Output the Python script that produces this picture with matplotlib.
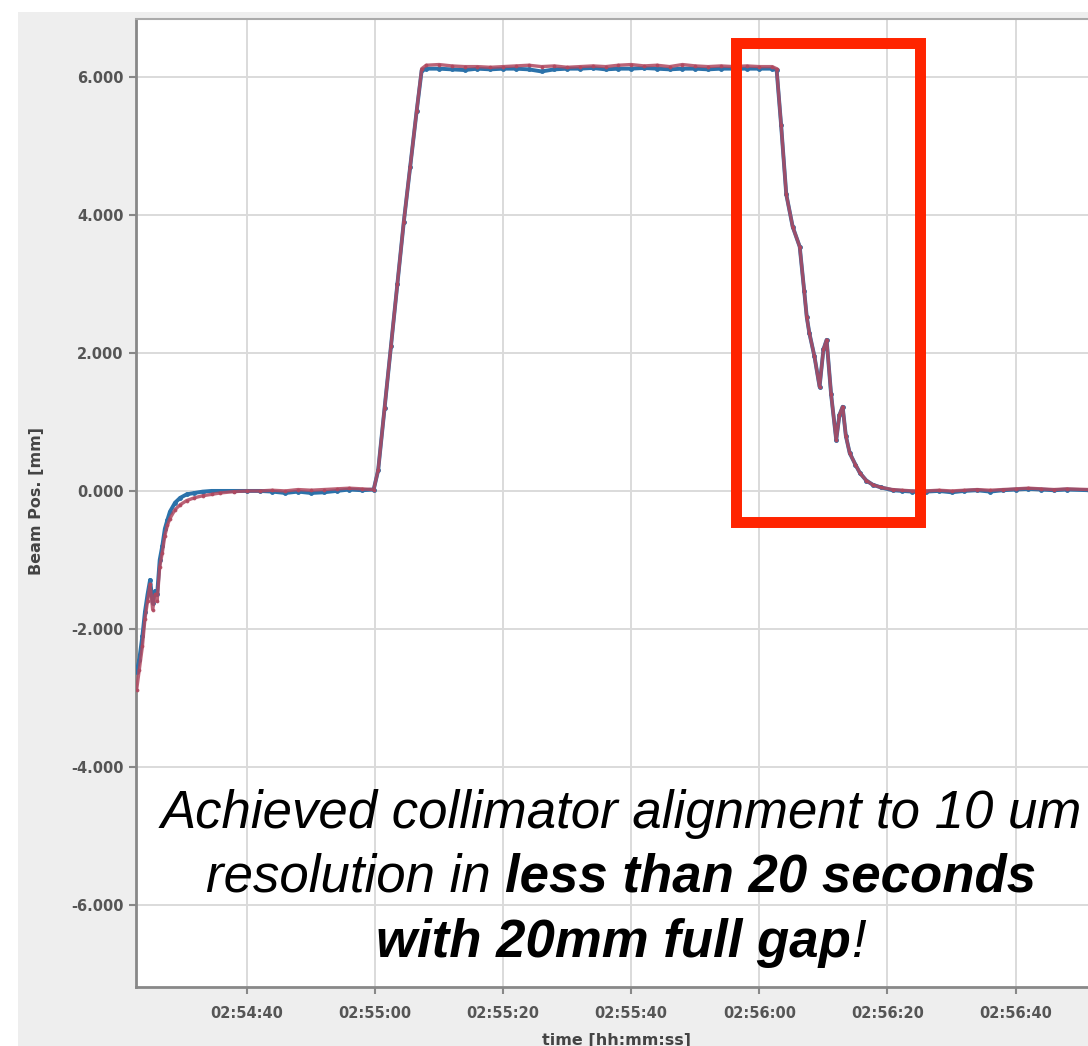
import matplotlib.pyplot as plt
from matplotlib.patches import Rectangle

# seconds since 02:54:00
t_sec = [22.8, 23.2, 23.7, 24.1, 24.5, 24.9, 25.3, 25.7, 26.0, 26.4, 26.8, 27.2,
         27.6, 28.0, 28.8, 29.6, 30.6, 31.8, 33.1, 34.5, 35.8, 38, 40, 42, 44, 46,
         48, 50, 52, 54, 56, 58, 59.8, 60.5, 61.5, 62.5, 63.5, 64.5, 65.5, 66.5,
         67.3, 68, 70, 72, 74, 76, 78, 80, 82, 84, 86, 88, 90, 92, 94, 96, 98,
         100, 102, 104, 106, 108, 110, 112, 114, 116, 118, 120, 122, 122.7, 123.4,
         124.2, 125.2, 126.3, 127.0, 127.4, 127.8, 128.6, 129.4, 130.0, 130.5,
         131.2, 132.0, 132.5, 133.0, 133.5, 134.1, 135.0, 135.7, 136.7, 137.7,
         139.0, 140.8, 142.3, 143.9, 146, 148, 150, 152, 154, 156, 158, 160, 162,
         164, 166, 168, 171.5]

pos_blue = [-2.62, -2.45, -2.1, -1.75, -1.5, -1.29, -1.62, -1.45, -1.5, -1.0, -0.8,
            -0.55, -0.42, -0.3, -0.17, -0.1, -0.05, -0.03, -0.01, 0.0, 0.0, 0.0,
            0.0, 0.0, -0.01, -0.03, -0.01, -0.03, -0.02, 0.0, 0.02, 0.01, 0.02,
            0.3, 1.2, 2.1, 3.0, 3.9, 4.7, 5.5, 6.1, 6.12, 6.12, 6.11, 6.1, 6.12,
            6.11, 6.12, 6.12, 6.11, 6.08, 6.11, 6.12, 6.12, 6.13, 6.11, 6.12, 6.12,
            6.13, 6.12, 6.11, 6.12, 6.12, 6.11, 6.12, 6.12, 6.12, 6.12, 6.12, 6.1,
            5.3, 4.3, 3.83, 3.54, 2.9, 2.52, 2.29, 1.95, 1.51, 2.05, 2.19, 1.4,
            0.74, 1.1, 1.22, 0.8, 0.55, 0.38, 0.26, 0.15, 0.09, 0.05, 0.01, 0.0,
            -0.01, -0.01, 0.0, -0.02, 0.0, 0.01, -0.01, 0.01, 0.02, 0.03, 0.02,
            0.01, 0.02, 0.01]

pos_red = [-2.88, -2.6, -2.25, -1.85, -1.6, -1.35, -1.72, -1.5, -1.6, -1.1, -0.9,
           -0.65, -0.5, -0.4, -0.27, -0.2, -0.14, -0.1, -0.07, -0.05, -0.03, -0.01,
           0.0, 0.0, 0.01, 0.0, 0.02, 0.01, 0.02, 0.03, 0.04, 0.03, 0.02,
           0.3, 1.2, 2.1, 3.0, 3.9, 4.7, 5.5, 6.12, 6.17, 6.18, 6.16, 6.15, 6.15,
           6.14, 6.15, 6.16, 6.17, 6.15, 6.16, 6.14, 6.15, 6.16, 6.15, 6.17, 6.18,
           6.16, 6.17, 6.15, 6.18, 6.16, 6.15, 6.16, 6.15, 6.16, 6.15, 6.15, 6.12,
           5.3, 4.3, 3.83, 3.54, 2.9, 2.52, 2.29, 1.95, 1.51, 2.05, 2.19, 1.4,
           0.74, 1.1, 1.22, 0.8, 0.55, 0.38, 0.26, 0.15, 0.09, 0.05, 0.02, 0.01,
           0.0, 0.0, 0.01, 0.0, 0.01, 0.02, 0.01, 0.02, 0.03, 0.04, 0.03,
           0.02, 0.03, 0.02]

x_ticks = [40, 60, 80, 100, 120, 140, 160]
x_labels = ['02:54:40', '02:55:00', '02:55:20', '02:55:40', '02:56:00', '02:56:20', '02:56:40']
y_ticks = [-6, -4, -2, 0, 2, 4, 6]
y_labels = ['-6.000', '-4.000', '-2.000', '0.000', '2.000', '4.000', '6.000']

W, H = 1088, 1046
fig = plt.figure(figsize=(W / 100, H / 100), dpi=100)
fig.patch.set_facecolor('white')
fig.add_artist(Rectangle((18 / W, 0), 1, (H - 12) / H, transform=fig.transFigure,
                         facecolor='#eeeeee', edgecolor='none', zorder=0))

ax = fig.add_axes([136 / W, (H - 987) / H, (W - 136) / W, (987 - 19) / H])
ax.set_facecolor('white')
ax.set_xlim(22.7, 171.3)
ax.set_ylim(-7.19, 6.84)

ax.plot(t_sec, pos_blue, color='#2b72aa', lw=2.8, marker='.', ms=5, zorder=3)
ax.plot(t_sec, pos_red, color='#b0485f', lw=2.4, marker='.', ms=3.5, alpha=0.85, zorder=4)

ax.add_patch(Rectangle((116.4, -0.45), 145.1 - 116.4, 6.49 + 0.45, fill=False,
                       edgecolor='#ff2400', lw=7.9, zorder=6))

ax.set_xticks(x_ticks)
ax.set_xticklabels(x_labels)
ax.set_yticks(y_ticks)
ax.set_yticklabels(y_labels)
ax.grid(True, color='#dadada', lw=1.4)
ax.set_axisbelow(True)
for s in ['left', 'bottom']:
    ax.spines[s].set_color('#888888')
    ax.spines[s].set_linewidth(2)
ax.spines['top'].set_color('#aaaaaa')
ax.spines['top'].set_linewidth(1.5)
ax.spines['right'].set_visible(False)
ax.tick_params(direction='out', length=5, width=1.5, color='#888888',
               labelsize=10.5, labelcolor='#555555')
ax.tick_params(axis='x', pad=9)
ax.tick_params(axis='y', pad=4)
for lab in ax.get_xticklabels() + ax.get_yticklabels():
    lab.set_fontweight('bold')

fig.text(37 / W, (H - 501) / H, 'Beam Pos. [mm]', rotation=90, ha='center', va='center',
         fontsize=11.5, fontweight='bold', color='#444444')
fig.text(616 / W, (H - 1040) / H, 'time [hh:mm:ss]', ha='center', va='center',
         fontsize=11.5, fontweight='bold', color='#444444')

# annotation lines, mixed italic / bold italic, centred on x=621 px
lines = [
    [('Achieved collimator alignment to 10 um', 'normal')],
    [('resolution in ', 'normal'), ('less than 20 seconds', 'bold')],
    [('with 20mm full gap', 'bold'), ('!', 'normal')],
]
baselines = [828, 892, 957]
fig.canvas.draw()
renderer = fig.canvas.get_renderer()
for parts, base in zip(lines, baselines):
    objs = []
    for txt, wt in parts:
        o = fig.text(0, (H - base) / H, txt, fontsize=38, style='italic', fontweight=wt,
                     family='Liberation Sans', va='baseline', ha='left', color='black')
        objs.append(o)
    widths = [o.get_window_extent(renderer).width for o in objs]
    x = 621 - sum(widths) / 2
    for o, w in zip(objs, widths):
        o.set_x(x / W)
        x += w

fig.savefig('out.png', dpi=100)
